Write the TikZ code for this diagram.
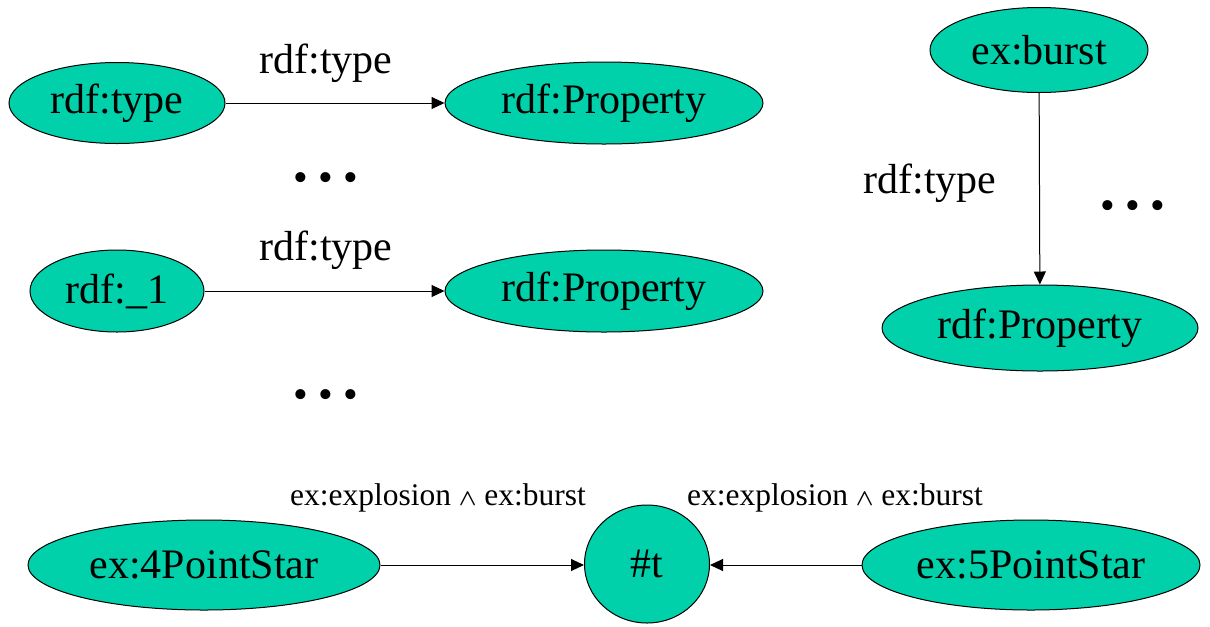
\documentclass[tikz,border=0pt]{standalone}
\usepackage{amsmath}
\usepackage{fontspec}
\setmainfont{Liberation Serif}
\usetikzlibrary{shapes.geometric,arrows.meta}

\definecolor{nodeteal}{RGB}{0,209,170}

\tikzset{every picture/.style={line width=0.75pt}}
\tikzset{
	rnode/.style={ellipse, draw, fill=nodeteal, inner sep=0pt, font=\fontsize{31.5}{36}\selectfont},
	rlabel/.style={inner sep=0.75pt, font=\fontsize{31.5}{36}\selectfont},
	slabel/.style={inner sep=0.75pt, font=\fontsize{23.6}{28}\selectfont},
	rarrow/.style={-{Triangle[length=9.75pt,width=9pt]}}
}
\newcommand{\andsym}{$\scriptstyle\boldsymbol{\wedge}$}

\begin{document}
\begin{tikzpicture}[x=0.75pt,y=0.75pt,yscale=-1]
	\useasboundingbox (0,0) rectangle (1210,626);
	
	% Draw nodes
	\node [rnode, minimum width=162pt, minimum height=60.75pt] (type) at (117,103) {rdf:type};
	\node [rnode, minimum width=238.5pt, minimum height=61.5pt] (prop1) at (604,103) {rdf:Property};
	\node [rnode, minimum width=130.5pt, minimum height=61.5pt] (one) at (117,291) {rdf:\_1};
	\node [rnode, minimum width=238.5pt, minimum height=61.5pt] (prop2) at (604,291) {rdf:Property};
	\node [rnode, minimum width=163.5pt, minimum height=63.75pt] (burst) at (1039,50) {ex:burst};
	\node [rnode, minimum width=237pt, minimum height=64.5pt] (prop3) at (1040,328) {rdf:Property};
	\node [rnode, minimum width=264pt, minimum height=67.5pt] (four) at (204,565) {ex:4PointStar};
	\node [rnode, minimum width=93.75pt, minimum height=88.5pt] (t) at (647,564) {\#t};
	\node [rnode, minimum width=253.5pt, minimum height=67.5pt] (five) at (1031,565) {ex:5PointStar};
	
	% Draw connectors
	\draw [rarrow] (type) -- (prop1);
	\draw [rarrow] (one) -- (prop2);
	\draw [rarrow] (burst) -- (prop3);
	\draw [rarrow] (four.east) -- (t.west |- four.east);
	\draw [rarrow] (five.west) -- (t.east |- five.west);
	
	% Add text nodes
	\node [rlabel] (lab1) at (326,63) {rdf:type};
	\node [rlabel] (lab2) at (326,250) {rdf:type};
	\node [rlabel] (lab3) at (930,183) {rdf:type};
	\node [slabel] (lab4) at (438,498) {ex:explosion \andsym{} ex:burst};
	\node [slabel] (lab5) at (835,498) {ex:explosion \andsym{} ex:burst};
	\node [rlabel] (dots1) at (326,182) {• • •};
	\node [rlabel] (dots2) at (326,399) {• • •};
	\node [rlabel] (dots3) at (1133,210) {• • •};
\end{tikzpicture}
\end{document}
